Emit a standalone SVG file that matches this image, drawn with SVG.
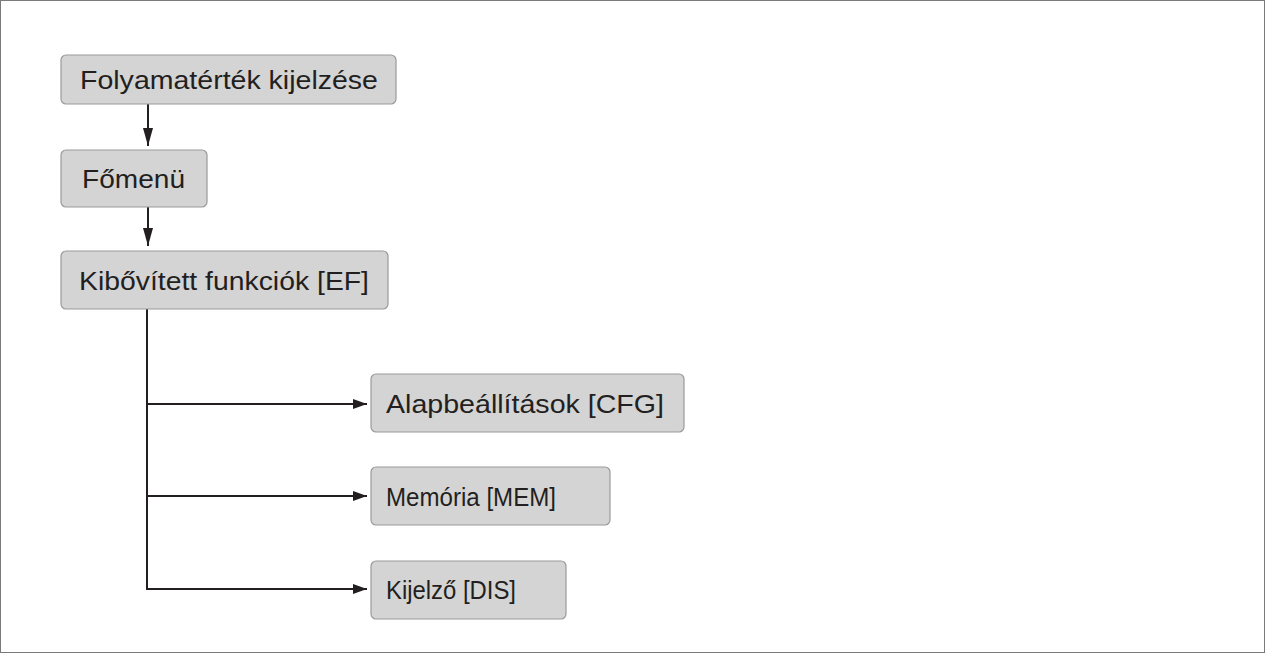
<svg xmlns="http://www.w3.org/2000/svg" width="1265" height="653" viewBox="0 0 1265 653">
<style>
.n rect{fill:#d4d4d5;stroke:#9a9a9a;stroke-width:1.2}
.n text{font-family:'Liberation Sans',Arial,Helvetica,sans-serif;font-size:25px;fill:#231f20}
.c path{stroke:#231f20;stroke-width:2;fill:none}
</style>
<defs><marker id="a" markerWidth="14" markerHeight="10" refX="14" refY="5" orient="auto" markerUnits="userSpaceOnUse"><path d="M0,0 L14,5 L0,10 Z" fill="#231f20"/></marker>
<marker id="d" markerWidth="10" markerHeight="18" refX="5" refY="18" orient="0" markerUnits="userSpaceOnUse"><path d="M0,0 L10,0 L5,18 Z" fill="#231f20"/></marker></defs>
<rect x="0.5" y="0.5" width="1264" height="652" fill="#fff" stroke="#7a7a7a"/>
<g class="c">
<path d="M148,104 V146" marker-end="url(#d)"/>
<path d="M148,207 V246" marker-end="url(#d)"/>
<path d="M147,309 V590"/>
<path d="M147,404 H367" marker-end="url(#a)"/>
<path d="M147,496 H367" marker-end="url(#a)"/>
<path d="M147,589 H367" marker-end="url(#a)"/>
</g>
<g class="n" id="n1"><rect x="61" y="55" width="335" height="49" rx="5"/><text x="80" y="89" textLength="298" lengthAdjust="spacingAndGlyphs">Folyamatérték kijelzése</text></g>
<g class="n" id="n2"><rect x="61" y="150" width="146" height="57" rx="5"/><text x="82" y="188" textLength="103" lengthAdjust="spacingAndGlyphs">Főmenü</text></g>
<g class="n" id="n3"><rect x="61" y="251" width="327" height="58" rx="5"/><text x="79" y="290" textLength="290" lengthAdjust="spacingAndGlyphs">Kibővített funkciók [EF]</text></g>
<g class="n" id="n4"><rect x="371" y="374" width="313" height="58" rx="5"/><text x="386" y="413" textLength="278" lengthAdjust="spacingAndGlyphs">Alapbeállítások [CFG]</text></g>
<g class="n" id="n5"><rect x="371" y="467" width="239" height="58" rx="5"/><text x="386" y="506" textLength="170" lengthAdjust="spacingAndGlyphs">Memória [MEM]</text></g>
<g class="n" id="n6"><rect x="371" y="561" width="195" height="58" rx="5"/><text x="386" y="599" textLength="130" lengthAdjust="spacingAndGlyphs">Kijelző [DIS]</text></g>
</svg>
